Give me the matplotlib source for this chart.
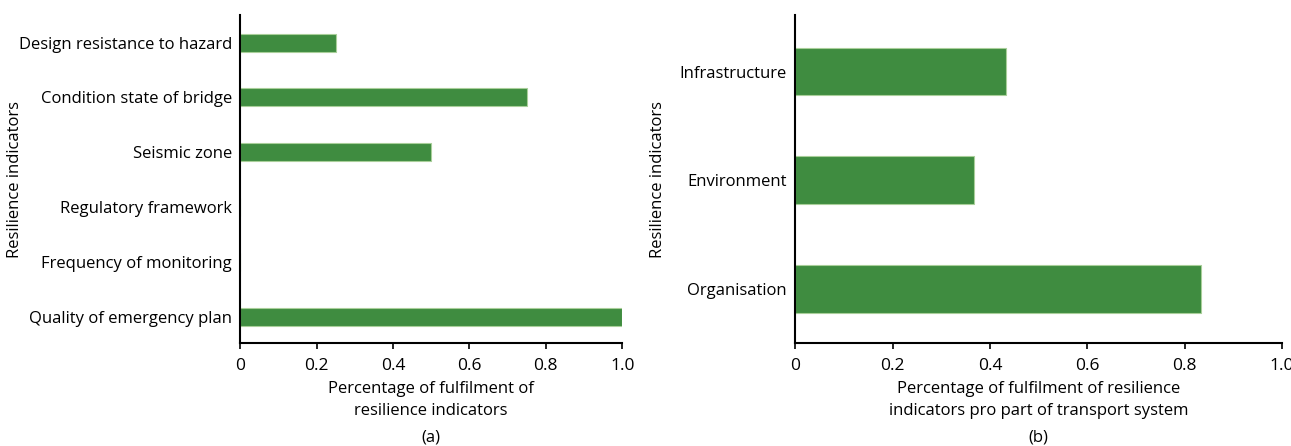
import matplotlib.pyplot as plt
import numpy as np

# indicator data ---------------------------------------------------
indicators_a = ['Quality of emergency plan', 'Frequency of monitoring', 'Regulatory framework',
                'Seismic zone', 'Condition state of bridge', 'Design resistance to hazard']
values_a = [1.0, 0.0, 0.0, 0.5, 0.75, 0.25]

parts_b = ['Organisation', 'Environment', 'Infrastructure']
values_b = [0.833, 0.367, 0.433]

xticks = [0, 0.2, 0.4, 0.6, 0.8, 1.0]
xtick_labels = ['0', '0.2', '0.4', '0.6', '0.8', '1.0']

plt.rcParams['font.family'] = ['Open Sans', 'DejaVu Sans']
fs = 12

bar_color = '#3f8c40'
edge_color = '#a9cf9a'

fig = plt.figure(figsize=(12.91, 4.46), dpi=100)
ax1 = fig.add_axes([0.186, 0.231, 0.296, 0.735])
ax2 = fig.add_axes([0.616, 0.231, 0.377, 0.735])

def style(ax):
    ax.spines['top'].set_visible(False)
    ax.spines['right'].set_visible(False)
    ax.spines['left'].set_linewidth(1.5)
    ax.spines['bottom'].set_linewidth(1.5)
    ax.set_xlim(0, 1.0)
    ax.set_xticks(xticks)
    ax.set_xticklabels(xtick_labels)
    ax.tick_params(axis='x', length=4, width=1.2, labelsize=12.5, pad=7)
    ax.tick_params(axis='y', length=0, labelsize=fs, pad=6)

# (a) single bridge indicators
pos_a = np.arange(len(indicators_a))
ax1.barh(pos_a, values_a, height=0.33, color=bar_color, edgecolor=edge_color, linewidth=0.8)
ax1.set_yticks(pos_a)
ax1.set_yticklabels(indicators_a)
ax1.set_ylim(-0.48, 5.5)
style(ax1)
ax1.set_ylabel('Resilience indicators', fontsize=fs)
ax1.yaxis.set_label_coords(-0.568, 0.5)
ax1.set_xlabel('Percentage of fulfilment of\nresilience indicators', fontsize=fs, labelpad=5,
               linespacing=1.45)
fig.text(0.334, 0.018, '(a)', ha='center', va='center', fontsize=fs)

# (b) per part of transport system
pos_b = np.arange(len(parts_b))
ax2.barh(pos_b, values_b, height=0.44, color=bar_color, edgecolor=edge_color, linewidth=0.8)
ax2.set_yticks(pos_b)
ax2.set_yticklabels(parts_b)
ax2.set_ylim(-0.5, 2.52)
style(ax2)
ax2.set_ylabel('Resilience indicators', fontsize=fs)
ax2.yaxis.set_label_coords(-0.265, 0.5)
ax2.set_xlabel('Percentage of fulfilment of resilience\nindicators pro part of transport system',
               fontsize=fs, labelpad=5, linespacing=1.45)
fig.text(0.8045, 0.018, '(b)', ha='center', va='center', fontsize=fs)

fig.savefig('out.png', dpi=100)
